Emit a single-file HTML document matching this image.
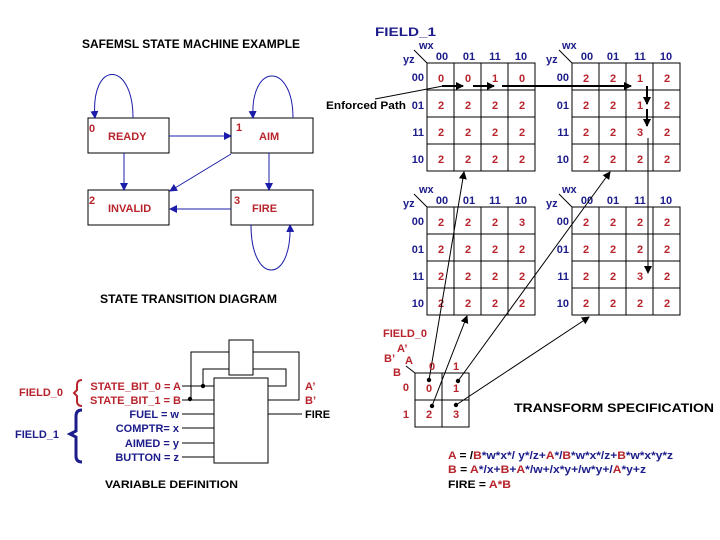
<!DOCTYPE html>
<html><head><meta charset="utf-8"><style>
html,body{margin:0;padding:0;background:#fff;}
svg{display:block;}
text{font-family:"Liberation Sans",Arial,sans-serif;font-weight:bold;font-size:11px;}
.r{fill:#b8242c;}
.b{fill:#1c1c8a;}
.k{fill:#000;}
.c{text-anchor:middle;}
.e{text-anchor:end;}
</style></head><body>
<svg width="720" height="540" viewBox="0 0 720 540" xmlns="http://www.w3.org/2000/svg">
<defs>
<marker id="ab" markerWidth="8" markerHeight="8" refX="7" refY="4" orient="auto" markerUnits="userSpaceOnUse"><path d="M0,0 L8,4 L0,8 Z" fill="#1c1caa"/></marker>
<marker id="ak" markerWidth="8" markerHeight="8" refX="7" refY="4" orient="auto" markerUnits="userSpaceOnUse"><path d="M0,0 L8,4 L0,8 Z" fill="#000"/></marker>
</defs>
<rect width="720" height="540" fill="#fff"/>

<text x="82" y="48" class="k" style="font-size:12px" textLength="218" lengthAdjust="spacingAndGlyphs">SAFEMSL STATE MACHINE EXAMPLE</text>
<g fill="none" stroke="#000" stroke-width="1">
<rect x="88" y="118" width="81" height="35"/>
<rect x="231" y="118" width="82" height="35"/>
<rect x="88" y="190" width="81" height="35"/>
<rect x="231" y="190" width="82" height="35"/>
</g>
<text x="89" y="132" class="r">0</text><text x="108" y="140" class="r">READY</text>
<text x="236" y="131" class="r">1</text><text x="259" y="140" class="r">AIM</text>
<text x="89" y="204" class="r">2</text><text x="108" y="212" class="r">INVALID</text>
<text x="234" y="204" class="r">3</text><text x="252" y="212" class="r">FIRE</text>
<g fill="none" stroke="#1c1caa" stroke-width="1">
<path d="M133,118 C133,60 90,60 95,118" marker-end="url(#ab)"/>
<path d="M293,118 C293,62 250,62 253,118" marker-end="url(#ab)"/>
<path d="M251,225 C251,285 292,285 290,225" marker-end="url(#ab)"/>
<line x1="169" y1="136" x2="231" y2="136" marker-end="url(#ab)"/>
<line x1="124" y1="153" x2="124" y2="190" marker-end="url(#ab)"/>
<line x1="231" y1="154" x2="170" y2="191" marker-end="url(#ab)"/>
<line x1="269" y1="153" x2="269" y2="190" marker-end="url(#ab)"/>
<line x1="231" y1="209" x2="170" y2="209" marker-end="url(#ab)"/>
</g>
<text x="100" y="303" class="k" style="font-size:12px" textLength="177" lengthAdjust="spacingAndGlyphs">STATE TRANSITION DIAGRAM</text>

<text x="375" y="36" class="b" style="font-size:12px" textLength="61" lengthAdjust="spacingAndGlyphs">FIELD_1</text>
<g fill="none" stroke="#000" stroke-width="1">
<rect x="427" y="63" width="108" height="108"/>
<path d="M454,63V171M481,63V171M508,63V171M427,90H535M427,117H535M427,144H535"/>
<rect x="572" y="63" width="108" height="108"/>
<path d="M599,63V171M626,63V171M653,63V171M572,90H680M572,117H680M572,144H680"/>
<rect x="427" y="207" width="108" height="108"/>
<path d="M454,207V315M481,207V315M508,207V315M427,234H535M427,261H535M427,288H535"/>
<rect x="572" y="207" width="108" height="108"/>
<path d="M599,207V315M626,207V315M653,207V315M572,234H680M572,261H680M572,288H680"/>
<line x1="414" y1="50" x2="427" y2="63"/>
<line x1="559" y1="50" x2="572" y2="63"/>
<line x1="414" y1="194" x2="427" y2="207"/>
<line x1="559" y1="194" x2="572" y2="207"/>
</g>
<g class="b">
<text x="419" y="49">wx</text><text x="403" y="63">yz</text>
<text x="562" y="49">wx</text><text x="546" y="63">yz</text>
<text x="419" y="193">wx</text><text x="403" y="207">yz</text>
<text x="562" y="193">wx</text><text x="546" y="207">yz</text>
</g>
<g class="b c">
<text x="442" y="60">00</text><text x="469" y="60">01</text><text x="495" y="60">11</text><text x="521" y="60">10</text>
<text x="587" y="60">00</text><text x="613" y="60">01</text><text x="640" y="60">11</text><text x="666" y="60">10</text>
<text x="442" y="204">00</text><text x="469" y="204">01</text><text x="495" y="204">11</text><text x="521" y="204">10</text>
<text x="587" y="204">00</text><text x="613" y="204">01</text><text x="640" y="204">11</text><text x="666" y="204">10</text>
</g>
<g class="b e">
<text x="424" y="81">00</text><text x="424" y="109">01</text><text x="424" y="136">11</text><text x="424" y="163">10</text>
<text x="569" y="81">00</text><text x="569" y="109">01</text><text x="569" y="136">11</text><text x="569" y="163">10</text>
<text x="424" y="225">00</text><text x="424" y="253">01</text><text x="424" y="280">11</text><text x="424" y="307">10</text>
<text x="569" y="225">00</text><text x="569" y="253">01</text><text x="569" y="280">11</text><text x="569" y="307">10</text>
</g>
<g class="r c">
<text x="441" y="82">0</text><text x="468" y="82">0</text><text x="495" y="82">1</text><text x="522" y="82">0</text>
<text x="441" y="109">2</text><text x="468" y="109">2</text><text x="495" y="109">2</text><text x="522" y="109">2</text>
<text x="441" y="136">2</text><text x="468" y="136">2</text><text x="495" y="136">2</text><text x="522" y="136">2</text>
<text x="441" y="163">2</text><text x="468" y="163">2</text><text x="495" y="163">2</text><text x="522" y="163">2</text>

<text x="586" y="82">2</text><text x="613" y="82">2</text><text x="640" y="82">1</text><text x="667" y="82">2</text>
<text x="586" y="109">2</text><text x="613" y="109">2</text><text x="640" y="109">1</text><text x="667" y="109">2</text>
<text x="586" y="136">2</text><text x="613" y="136">2</text><text x="640" y="136">3</text><text x="667" y="136">2</text>
<text x="586" y="163">2</text><text x="613" y="163">2</text><text x="640" y="163">2</text><text x="667" y="163">2</text>

<text x="441" y="226">2</text><text x="468" y="226">2</text><text x="495" y="226">2</text><text x="522" y="226">3</text>
<text x="441" y="253">2</text><text x="468" y="253">2</text><text x="495" y="253">2</text><text x="522" y="253">2</text>
<text x="441" y="280">2</text><text x="468" y="280">2</text><text x="495" y="280">2</text><text x="522" y="280">2</text>
<text x="441" y="307">2</text><text x="468" y="307">2</text><text x="495" y="307">2</text><text x="522" y="307">2</text>

<text x="586" y="226">2</text><text x="613" y="226">2</text><text x="640" y="226">2</text><text x="667" y="226">2</text>
<text x="586" y="253">2</text><text x="613" y="253">2</text><text x="640" y="253">2</text><text x="667" y="253">2</text>
<text x="586" y="280">2</text><text x="613" y="280">2</text><text x="640" y="280">3</text><text x="667" y="280">2</text>
<text x="586" y="307">2</text><text x="613" y="307">2</text><text x="640" y="307">2</text><text x="667" y="307">2</text>
</g>

<text x="326" y="109" class="k" textLength="80" lengthAdjust="spacingAndGlyphs">Enforced Path</text>
<g fill="none" stroke="#000">
<line x1="375" y1="99" x2="443" y2="86" stroke-width="1"/>
<line x1="442" y1="86" x2="463" y2="86" stroke-width="2" marker-end="url(#ak)"/>
<line x1="473" y1="86" x2="494" y2="86" stroke-width="2" marker-end="url(#ak)"/>
<line x1="502" y1="86" x2="631" y2="86" stroke-width="2" marker-end="url(#ak)"/>
<line x1="647" y1="86" x2="647" y2="104" stroke-width="2" marker-end="url(#ak)"/>
<line x1="647" y1="109" x2="647" y2="126" stroke-width="2" marker-end="url(#ak)"/>
<line x1="648" y1="138" x2="648" y2="273" stroke-width="1" marker-end="url(#ak)"/>
<line x1="429" y1="380" x2="464" y2="172" stroke-width="1" marker-end="url(#ak)"/>
<line x1="432" y1="406" x2="467" y2="316" stroke-width="1" marker-end="url(#ak)"/>
<line x1="458" y1="381" x2="610" y2="172" stroke-width="1" marker-end="url(#ak)"/>
<line x1="456" y1="405" x2="589" y2="317" stroke-width="1" marker-end="url(#ak)"/>
</g>

<text x="383" y="337" class="r">FIELD_0</text>
<text x="397" y="352" class="r">A’</text>
<text x="384" y="362" class="r">B’</text>
<text x="405" y="364" class="r">A</text>
<text x="393" y="376" class="r">B</text>
<line x1="406" y1="366" x2="415" y2="373" stroke="#000"/>
<text x="432" y="370" class="r c">0</text><text x="456" y="370" class="r c">1</text>
<text x="409" y="391" class="r e">0</text><text x="409" y="418" class="r e">1</text>
<g fill="none" stroke="#000"><rect x="415" y="373" width="54" height="54"/><path d="M442,373V427M415,400H469"/></g>
<text x="429" y="392" class="r c">0</text><text x="456" y="392" class="r c">1</text>
<text x="429" y="418" class="r c">2</text><text x="456" y="418" class="r c">3</text>
<g fill="#000"><circle cx="429" cy="380" r="2.2"/><circle cx="458" cy="381" r="2.2"/><circle cx="432" cy="406" r="2.2"/><circle cx="456" cy="405" r="2.2"/></g>

<text x="514" y="412" class="k" style="font-size:12px" textLength="200" lengthAdjust="spacingAndGlyphs">TRANSFORM SPECIFICATION</text>
<text x="448" y="459" textLength="225" lengthAdjust="spacingAndGlyphs"><tspan class="r">A</tspan><tspan class="k"> = /</tspan><tspan class="r">B</tspan><tspan class="b">*w*x*/ y*/z+</tspan><tspan class="r">A</tspan><tspan class="b">*/</tspan><tspan class="r">B</tspan><tspan class="b">*w*x*/z+</tspan><tspan class="r">B</tspan><tspan class="b">*w*x*y*z</tspan></text>
<text x="448" y="473" textLength="198" lengthAdjust="spacingAndGlyphs"><tspan class="r">B</tspan><tspan class="k"> = </tspan><tspan class="r">A</tspan><tspan class="b">*/x+</tspan><tspan class="r">B</tspan><tspan class="b">+</tspan><tspan class="r">A</tspan><tspan class="b">*/w+/x*y+/w*y+/</tspan><tspan class="r">A</tspan><tspan class="b">*y+z</tspan></text>
<text x="448" y="488" textLength="63" lengthAdjust="spacingAndGlyphs"><tspan class="k">FIRE = </tspan><tspan class="r">A*B</tspan></text>

<g fill="none" stroke="#000" stroke-width="1">
<rect x="229" y="340" width="24" height="35"/>
<rect x="214" y="378" width="54" height="85"/>
<line x1="182" y1="386" x2="214" y2="386"/>
<line x1="182" y1="400" x2="214" y2="400"/>
<line x1="182" y1="414" x2="214" y2="414"/>
<line x1="182" y1="428" x2="214" y2="428"/>
<line x1="182" y1="443" x2="214" y2="443"/>
<line x1="182" y1="457" x2="214" y2="457"/>
<line x1="268" y1="414" x2="302" y2="414"/>
<path d="M191,400V352H229M253,352H299V400H268"/>
<path d="M203,386V369H229M253,369H286V386H268"/>
</g>
<circle cx="190" cy="399" r="2.2" fill="#000"/><circle cx="203" cy="386" r="2.2" fill="#000"/>
<text x="305" y="390" class="r">A’</text>
<text x="305" y="404" class="r">B’</text>
<text x="305" y="418" class="k">FIRE</text>
<g class="e">
<text x="181" y="390" class="r">STATE_BIT_0 = A</text>
<text x="181" y="404" class="r">STATE_BIT_1 = B</text>
<text x="179" y="418" class="b">FUEL = w</text>
<text x="179" y="432" class="b">COMPTR= x</text>
<text x="179" y="447" class="b">AIMED = y</text>
<text x="179" y="461" class="b">BUTTON = z</text>
</g>
<text x="19" y="396" class="r">FIELD_0</text>
<path d="M82,380 Q77,380 77,385 V390 L74,393 L77,396 V401 Q77,406 82,406" fill="none" stroke="#b8242c" stroke-width="2"/>
<text x="15" y="438" class="b">FIELD_1</text>
<path d="M82,410 Q76,410 76,416 V431 L70,434 L76,437 V456 Q76,462 82,462" fill="none" stroke="#1c1c8a" stroke-width="3"/>
<text x="105" y="488" class="k" textLength="133" lengthAdjust="spacingAndGlyphs">VARIABLE DEFINITION</text>
</svg>
</body></html>
